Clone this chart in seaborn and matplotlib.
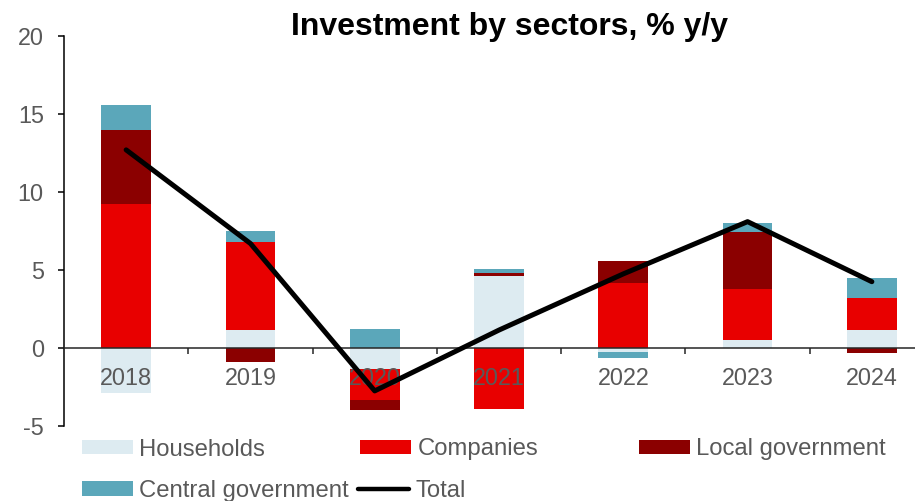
import numpy as np
import pandas as pd
import matplotlib
matplotlib.use("Agg")
import matplotlib.pyplot as plt
import seaborn as sns
from matplotlib.patches import Patch
from matplotlib.lines import Line2D
from matplotlib.ticker import FixedLocator

# Contributions to investment growth by sector, percentage points
years = ["2018", "2019", "2020", "2021", "2022", "2023", "2024"]
households = [-2.9, 1.15, -1.35, 4.6, -0.28, 0.5, 1.15]
companies = [9.2, 5.65, -2.0, -3.9, 4.15, 3.3, 2.05]
local_gov = [4.8, -0.9, -0.65, 0.2, 1.4, 3.65, -0.3]
central_gov = [1.55, 0.7, 1.25, 0.25, -0.38, 0.55, 1.3]
total = [12.7, 6.7, -2.75, 1.15, 4.75, 8.1, 4.25]

series_names = ["Households", "Companies", "Local government", "Central government"]
series_values = [households, companies, local_gov, central_gov]
series_colors = ["#DDEBF1", "#E80000", "#8B0000", "#5BA7BA"]
y_ticks = [-5, 0, 5, 10, 15, 20]

sns.set_theme(style="ticks")
plt.rcParams["font.family"] = ["Liberation Sans", "DejaVu Sans"]
plt.rcParams["axes.unicode_minus"] = False

text_grey = "#595959"
fs = 16.8

fig = plt.figure(figsize=(9.15, 5.01), dpi=100)
ax = fig.add_axes([64 / 915, 75 / 501, 870 / 915, 390 / 501])

# Stacked bars: positive parts stack upward, negative parts downward
pos_base = np.zeros(len(years))
neg_base = np.zeros(len(years))
for name, vals, col in zip(series_names, series_values, series_colors):
    v = np.asarray(vals, dtype=float)
    base = np.where(v >= 0, pos_base, neg_base)
    df = pd.DataFrame({"year": years, "value": v})
    sns.barplot(data=df, x="year", y="value", order=years, color=col,
                width=0.4, bottom=base, errorbar=None, saturation=1,
                linewidth=0, ax=ax)
    pos_base += np.where(v > 0, v, 0)
    neg_base += np.where(v < 0, v, 0)

for bar in ax.patches:
    bar.set_zorder(1)

# Total line
sns.lineplot(x=np.arange(len(years)), y=total, color="black", linewidth=3.6,
             solid_capstyle="round", solid_joinstyle="round", zorder=4, ax=ax)

ax.set(xlabel="", ylabel="")
ax.set_xlim(-0.5, len(years) - 0.5)
ax.set_ylim(-5, 20)
ax.set_yticks(y_ticks)
ax.set_xticks(range(len(years)))
ax.set_xticklabels(years)
ax.xaxis.set_minor_locator(FixedLocator(np.arange(0.5, len(years) - 0.5, 1)))

for side in ("top", "right"):
    ax.spines[side].set_visible(False)
ax.spines["bottom"].set_position(("data", 0))
ax.spines["bottom"].set_color("#262626")
ax.spines["bottom"].set_linewidth(1.1)
ax.spines["bottom"].set_zorder(3)
ax.spines["left"].set_color("black")
ax.spines["left"].set_linewidth(1.1)

ax.tick_params(axis="x", which="major", length=0, pad=14,
               labelsize=fs, labelcolor=text_grey)
ax.tick_params(axis="x", which="minor", length=4.5, width=1.1,
               color="#262626", direction="out")
ax.tick_params(axis="y", length=4.5, width=1.1, color="black", direction="out",
               pad=10, labelsize=fs, labelcolor=text_grey)
ax.grid(False)
# year labels sit above the bars, below the total line
ax.xaxis.set_zorder(2)
ax.yaxis.set_zorder(2)

fig.text(509 / 915, 1 - 35.5 / 501, "Investment by sectors, % y/y",
         ha="center", va="baseline", fontsize=23, fontweight="bold",
         color="black")

# Legend entries laid out in two rows
lfs = 17.2
entries = [
    (Patch(facecolor=series_colors[0], edgecolor="none"), series_names[0], 82, 449.5),
    (Patch(facecolor=series_colors[1], edgecolor="none"), series_names[1], 360, 449.5),
    (Patch(facecolor=series_colors[2], edgecolor="none"), series_names[2], 639, 449.5),
    (Patch(facecolor=series_colors[3], edgecolor="none"), series_names[3], 82, 491),
    (Line2D([], [], color="black", linewidth=3.2, solid_capstyle="round"), "Total", 358, 491),
]
for handle, label, px, py in entries:
    fig.legend(handles=[handle], labels=[label], loc="center left",
               bbox_to_anchor=(px / 915, 1 - py / 501), frameon=False,
               borderpad=0, borderaxespad=0, handlelength=2.15,
               handleheight=0.55, handletextpad=0.25, fontsize=lfs,
               labelcolor=text_grey)

fig.savefig("out.png", dpi=100)
